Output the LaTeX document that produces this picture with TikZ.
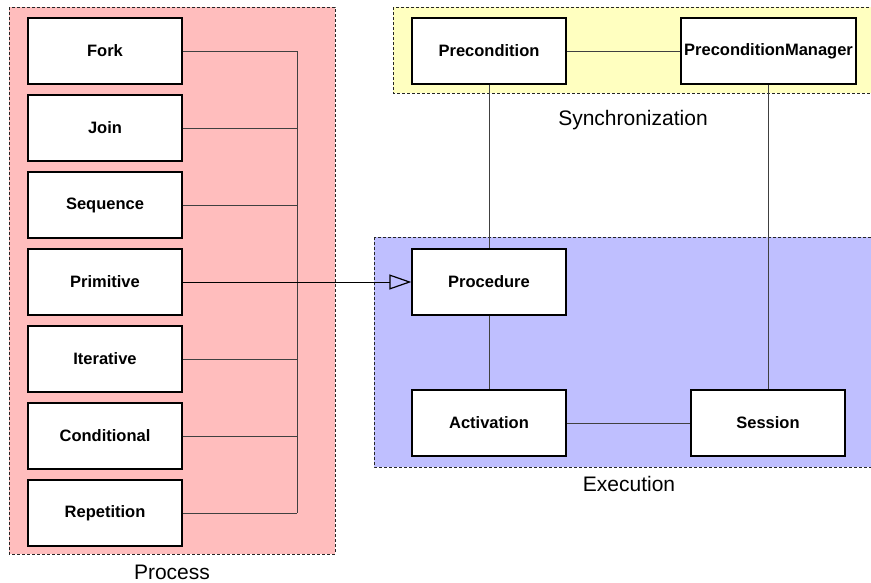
\documentclass[tikz,border=0pt]{standalone}
\usepackage{fontspec}
\setmainfont{Liberation Sans}
\usetikzlibrary{arrows.meta}
\definecolor{pinkbg}{HTML}{FFBDBD}
\definecolor{yellowbg}{HTML}{FFFFC0}
\definecolor{bluebg}{HTML}{BFBFFF}
\begin{document}
\begin{tikzpicture}[x=1pt,y=-1pt,
  cls/.style={draw=black, line width=1.3pt, fill=white, minimum width=154pt, minimum height=66pt, inner sep=0pt, font=\fontsize{16.5}{19}\selectfont\bfseries},
  grp/.style={draw=black!85, densely dashed, line width=0.8pt},
  lnk/.style={draw=black!75, line width=0.9pt},
  glabel/.style={font=\fontsize{21}{24}\selectfont, inner sep=0pt}]
\useasboundingbox (0,0) rectangle (871,582);
\begin{scope}
\clip (0,0) rectangle (871,582);
\path[grp, fill=pinkbg] (9,7) rectangle (335,554);
\path[grp, fill=yellowbg] (393,7) rectangle (880,93);
\path[grp, fill=bluebg] (374,237) rectangle (885,467);
\end{scope}
\node[glabel] (lprocess) at (172,572) {Process};
\node[glabel] (lsync) at (633,120) {Synchronization};
\node[glabel] (lexec) at (629,484) {Execution};
% process classes
\node[cls] (fork) at (105,51) {Fork};
\node[cls] (join) at (105,128) {Join};
\node[cls] (seq) at (105,205) {Sequence};
\node[cls] (prim) at (105,282) {Primitive};
\node[cls] (iter) at (105,359) {Iterative};
\node[cls] (cond) at (105,436) {Conditional};
\node[cls] (rep) at (105,513) {Repetition};
% others
\node[cls] (pre) at (489,51) {Precondition};
\node[cls, minimum width=175pt] (pman) at (768.5,51) {PreconditionManager};
\node[cls] (proc) at (489,282) {Procedure};
\node[cls] (act) at (489,423) {Activation};
\node[cls] (sess) at (768,423) {Session};
% bus
\coordinate (bt) at (297,51);
\coordinate (bb) at (297,513);
\foreach \n in {fork,join,seq,cond,iter,rep}{
  \draw[lnk] (\n.east) -- (\n.east -| bt);
}
\draw[lnk] (bt) -- (bb);
\draw[line width=0.9pt, -{Triangle[open, length=22pt, width=15pt, line width=1.2pt]}] (prim.east) -- (proc.west);
% links
\draw[lnk] (pre) -- (pman);
\draw[lnk] (pre) -- (proc);
\draw[lnk] (proc) -- (act);
\draw[lnk] (act) -- (sess);
\draw[lnk] (pman.south) -- (pman.south |- sess.north);
\end{tikzpicture}
\end{document}
